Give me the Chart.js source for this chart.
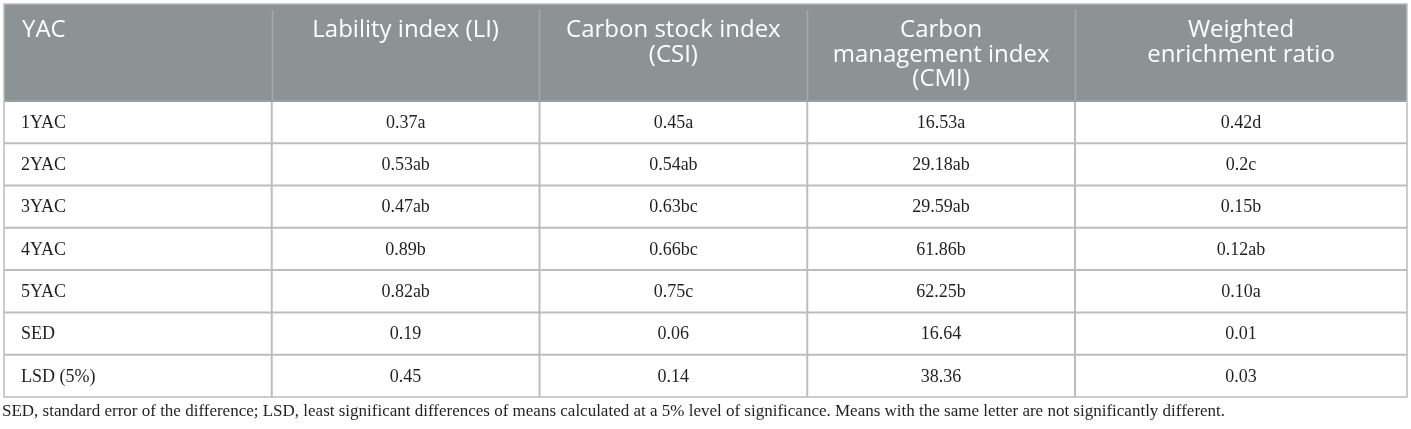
<!DOCTYPE html>
<html>
<head>
<meta charset="utf-8">
<script src="https://cdn.jsdelivr.net/npm/chart.js@4/dist/chart.umd.min.js"></script>
<style>
  html, body { margin: 0; padding: 0; background: #ffffff; }
  #wrap { width: 1411px; height: 429px; position: relative; }
</style>
</head>
<body>
<div id="wrap"><canvas id="c"></canvas></div>
<script>
// ---- Data ----
const columnHeaders = [
  ['YAC'],
  ['Lability index (LI)'],
  ['Carbon stock index', '(CSI)'],
  ['Carbon', 'management index', '(CMI)'],
  ['Weighted', 'enrichment ratio']
];
const rowLabels = ['1YAC', '2YAC', '3YAC', '4YAC', '5YAC', 'SED', 'LSD (5%)'];
const labilityIndex = ['0.37a', '0.53ab', '0.47ab', '0.89b', '0.82ab', '0.19', '0.45'];
const carbonStockIndex = ['0.45a', '0.54ab', '0.63bc', '0.66bc', '0.75c', '0.06', '0.14'];
const carbonManagementIndex = ['16.53a', '29.18ab', '29.59ab', '61.86b', '62.25b', '16.64', '38.36'];
const weightedEnrichmentRatio = ['0.42d', '0.2c', '0.15b', '0.12ab', '0.10a', '0.01', '0.03'];
const footnote = 'SED, standard error of the difference; LSD, least significant differences of means calculated at a 5% level of significance. Means with the same letter are not significantly different.';

// ---- Layout (scale units) ----
const colEdges = [0, 1, 2, 3, 4, 5.24];
const headerUnits = 2.29;
const totalUnits = headerUnits + rowLabels.length;

const tablePlugin = {
  id: 'tablePlugin',
  afterDraw(chart) {
    const ctx = chart.ctx;
    const xs = chart.scales.x, ys = chart.scales.y;
    const X = v => xs.getPixelForValue(v);
    const Y = v => ys.getPixelForValue(v);
    const left = X(colEdges[0]), right = X(colEdges[colEdges.length - 1]);
    const top = Y(0), hb = Y(headerUnits), bottom = Y(totalUnits);
    const columns = [rowLabels, labilityIndex, carbonStockIndex, carbonManagementIndex, weightedEnrichmentRatio];

    ctx.save();
    // header background
    ctx.fillStyle = '#8d9295';
    ctx.fillRect(left, top, right - left, hb - top);
    // header vertical separators
    ctx.strokeStyle = '#a6aaac';
    ctx.lineWidth = 1.5;
    for (let i = 1; i < colEdges.length - 1; i++) {
      const x = Math.round(X(colEdges[i])) + 0.5;
      ctx.beginPath(); ctx.moveTo(x, top + 6); ctx.lineTo(x, hb); ctx.stroke();
    }
    // header text
    ctx.fillStyle = '#ffffff';
    ctx.font = '400 24px "Open Sans"';
    ctx.textBaseline = 'alphabetic';
    columnHeaders.forEach((lines, c) => {
      const x0 = X(colEdges[c]), x1 = X(colEdges[c + 1]);
      lines.forEach((ln, k) => {
        const yb = top + 33 + k * 24.5;
        if (c === 0) { ctx.textAlign = 'left'; ctx.fillText(ln, x0 + 18, yb); }
        else { ctx.textAlign = 'center'; ctx.fillText(ln, (x0 + x1) / 2, yb); }
      });
    });

    // body grid
    ctx.strokeStyle = '#bdbdbd';
    ctx.lineWidth = 2;
    for (let r = 1; r < rowLabels.length; r++) {
      const y = Y(headerUnits + r);
      ctx.beginPath(); ctx.moveTo(left, y); ctx.lineTo(right, y); ctx.stroke();
    }
    for (let i = 1; i < colEdges.length - 1; i++) {
      const x = X(colEdges[i]);
      ctx.beginPath(); ctx.moveTo(x, hb); ctx.lineTo(x, bottom); ctx.stroke();
    }
    // header bottom line
    ctx.strokeStyle = '#9c9fa1';
    ctx.lineWidth = 2;
    ctx.beginPath(); ctx.moveTo(left, hb); ctx.lineTo(right, hb); ctx.stroke();
    // outer border
    ctx.strokeStyle = '#b9bcbd';
    ctx.lineWidth = 1.5;
    ctx.strokeRect(left, top, right - left, bottom - top);

    // body text
    ctx.fillStyle = '#231f20';
    ctx.font = '18px "Liberation Serif"';
    ctx.textBaseline = 'middle';
    columns.forEach((vals, c) => {
      const x0 = X(colEdges[c]), x1 = X(colEdges[c + 1]);
      vals.forEach((v, r) => {
        const yc = (Y(headerUnits + r) + Y(headerUnits + r + 1)) / 2 + 1;
        if (c === 0) { ctx.textAlign = 'left'; ctx.fillText(v, x0 + 17, yc); }
        else { ctx.textAlign = 'center'; ctx.fillText(v, (x0 + x1) / 2, yc); }
      });
    });

    // footnote
    ctx.font = '17px "Liberation Serif"';
    ctx.textAlign = 'left';
    ctx.textBaseline = 'alphabetic';
    ctx.fillText(footnote, left - 2, bottom + 19);
    ctx.restore();
  }
};

new Chart(document.getElementById('c'), {
  type: 'scatter',
  data: { datasets: [] },
  options: {
    responsive: true,
    maintainAspectRatio: false,
    animation: false,
    layout: { padding: { left: 4, right: 4, top: 4, bottom: 32 } },
    plugins: { legend: { display: false }, tooltip: { enabled: false } },
    scales: {
      x: { type: 'linear', min: colEdges[0], max: colEdges[colEdges.length - 1], display: false },
      y: { type: 'linear', min: 0, max: totalUnits, reverse: true, display: false }
    }
  },
  plugins: [tablePlugin]
});
</script>
</body>
</html>
